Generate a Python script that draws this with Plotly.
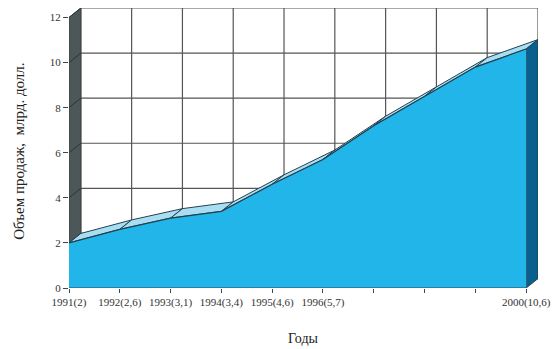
import plotly.graph_objects as go

# Sales volume by year, billion dollars
years = ["1991", "1992", "1993", "1994", "1995", "1996", "1997", "1998", "1999", "2000"]
sales = [2.0, 2.6, 3.1, 3.4, 4.6, 5.7, 7.2, 8.5, 9.8, 10.6]
tick_text = ["1991(2)", "1992(2,6)", "1993(3,1)", "1994(3,4)", "1995(4,6)",
             "1996(5,7)", "", "", "", "2000(10,6)"]
y_ticks = [0, 2, 4, 6, 8, 10, 12]

# depth offset of the pseudo-3D extrusion, in axis units
DX = 0.233
DY = 0.42

FRONT = "#22b5e9"
TOP = "#a9def2"
SIDE = "#0b5f8c"
WALL = "#4d5759"
EDGE = "#23414f"
GRID = "#555555"
SERIF = "Liberation Serif"

n = len(years)
xs = list(range(n))
ymax = y_ticks[-1]

fig = go.Figure()

def add_lines(x, y, color, width=1.0, fill=None, fillcolor=None):
    fig.add_trace(go.Scatter(x=x, y=y, mode="lines", line=dict(color=color, width=width),
                             fill=fill, fillcolor=fillcolor, hoverinfo="skip",
                             showlegend=False))

# back wall grid
gx, gy = [], []
for i in xs:
    gx += [i + DX, i + DX, None]
    gy += [DY, ymax + DY, None]
for v in y_ticks:
    gx += [DX, n - 1 + DX, None]
    gy += [v + DY, v + DY, None]
add_lines(gx, gy, GRID, 1.2)

# left wall
add_lines([0, 0, DX, DX, 0], [0, ymax, ymax + DY, DY, 0], "#3a4244", 1,
          fill="toself", fillcolor=WALL)
lx, ly = [], []
for v in y_ticks:
    lx += [0, DX, None]
    ly += [v, v + DY, None]
add_lines(lx, ly, "#2b3335", 1)

# top surface of the area: one parallelogram per segment
for i in range(n - 1):
    px = [xs[i], xs[i + 1], xs[i + 1] + DX, xs[i] + DX, xs[i]]
    py = [sales[i], sales[i + 1], sales[i + 1] + DY, sales[i] + DY, sales[i]]
    add_lines(px, py, EDGE, 1, fill="toself", fillcolor=TOP)

# right side face
last = n - 1
add_lines([last, last + DX, last + DX, last, last],
          [0, DY, sales[last] + DY, sales[last], 0], EDGE, 1,
          fill="toself", fillcolor=SIDE)

# front face
add_lines(xs, sales, EDGE, 1.2, fill="tozeroy", fillcolor=FRONT)

# front base line
add_lines([0, last], [0, 0], "#2d4d63", 1.2)

fig.update_layout(
    width=559, height=349,
    margin=dict(l=69, r=14, t=8, b=61),
    paper_bgcolor="white", plot_bgcolor="white",
    xaxis=dict(range=[0, last + DX], tickmode="array", tickvals=xs, ticktext=tick_text,
               showgrid=False, zeroline=False, showline=False,
               ticks="outside", ticklen=4, tickcolor="#2d4d63",
               tickfont=dict(family=SERIF, size=11, color="#333")),
    yaxis=dict(range=[0, ymax + DY], tickmode="array", tickvals=y_ticks,
               showgrid=False, zeroline=False, showline=False,
               ticks="outside", ticklen=5, tickcolor="#444",
               tickfont=dict(family=SERIF, size=11, color="#333")),
    annotations=[
        dict(text="Годы", x=0.5, y=-(338 - 288) / 280, xref="paper", yref="paper",
             xanchor="center", yanchor="middle", showarrow=False,
             font=dict(family=SERIF, size=14, color="#222")),
        dict(text="Объем продаж,  млрд. долл.", x=-(69 - 18) / 476, y=(288 - 151) / 280,
             xref="paper", yref="paper",
             showarrow=False, textangle=-90, xanchor="center", yanchor="middle",
             font=dict(family=SERIF, size=15, color="#222")),
    ],
)

fig.write_html("out.html")
